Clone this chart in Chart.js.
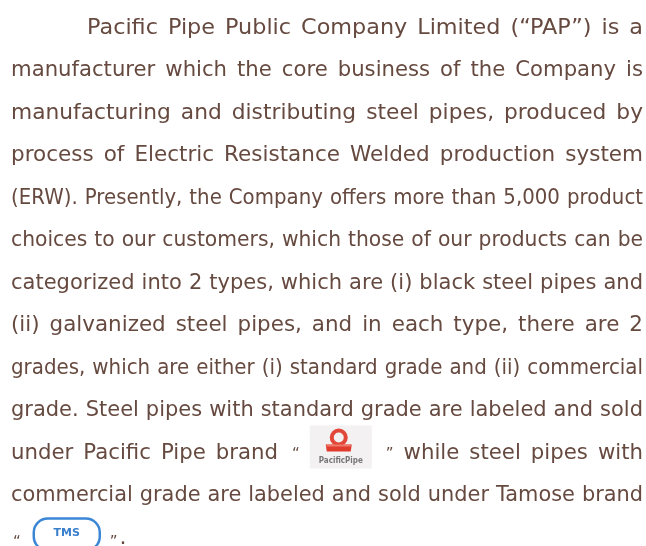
<!DOCTYPE html>
<html>
<head>
<meta charset="utf-8">
<script src="https://cdn.jsdelivr.net/npm/chart.js@4.4.1/dist/chart.umd.min.js"></script>
<style>
  html, body { margin: 0; padding: 0; background: #ffffff; }
  canvas { display: block; }
</style>
</head>
<body>
<canvas id="page" width="646" height="546"></canvas>
<script>
// paragraph lines, one entry per printed row ({PP} and {TMS} are the two brand logos)
const lines = [
    'Pacific Pipe Public Company Limited (\u201CPAP\u201D) is a',
    'manufacturer which the core business of the Company is',
    'manufacturing and distributing steel pipes, produced by',
    'process of Electric Resistance Welded production system',
    '(ERW). Presently, the Company offers more than 5,000 product',
    'choices to our customers, which those of our products can be',
    'categorized into 2 types, which are (i) black steel pipes and',
    '(ii) galvanized steel pipes, and in each type, there are 2',
    'grades, which are either (i) standard grade and (ii) commercial',
    'grade. Steel pipes with standard grade are labeled and sold',
    'under Pacific Pipe brand \u201C {PP} \u201D while steel pipes with',
    'commercial grade are labeled and sold under Tamose brand',
    '\u201C {TMS} \u201D .'
];
const logoText = ['PacificPipe', 'TMS'];

const textColor = '#664a40';
const textFont = '22px "DejaVu Sans"';
const quoteFont = '15px "DejaVu Sans"';
const leftEdge = 11;
const rightEdge = 643;
const indent = 87;

function drawPacificLogo(ctx, x, base) {
    const top = base - 33;
    ctx.fillStyle = '#f3f1f1';
    ctx.fillRect(x, top, 62, 43);
    const cx = x + 29;
    // ring
    ctx.strokeStyle = '#e2483a';
    ctx.lineWidth = 4;
    ctx.beginPath();
    ctx.arc(cx, top + 12, 7, 0, Math.PI * 2);
    ctx.stroke();
    // stand
    ctx.fillStyle = '#e03c2e';
    ctx.beginPath();
    ctx.moveTo(cx - 13, top + 19);
    ctx.lineTo(cx + 13, top + 19);
    ctx.lineTo(cx + 12, top + 26);
    ctx.lineTo(cx - 12, top + 26);
    ctx.closePath();
    ctx.fill();
    ctx.fillStyle = '#f07a6a';
    ctx.fillRect(cx - 12, top + 19, 24, 2);
    ctx.fillStyle = '#777777';
    ctx.font = 'bold 8px "DejaVu Sans Condensed"';
    ctx.textAlign = 'center';
    ctx.textBaseline = 'middle';
    ctx.fillText(logoText[0], x + 31, top + 35);
}

function drawTmsLogo(ctx, x, base) {
    const top = base - 25;
    const w = 66, h = 32, r = 14;
    ctx.strokeStyle = '#3b87d6';
    ctx.lineWidth = 2.5;
    ctx.beginPath();
    ctx.roundRect(x, top, w, h, r);
    ctx.stroke();
    ctx.fillStyle = '#3a7fcb';
    ctx.font = 'bold 11px "DejaVu Sans"';
    ctx.textAlign = 'center';
    ctx.textBaseline = 'middle';
    ctx.fillText(logoText[1], x + w / 2, top + 15);
}

const paragraphPlugin = {
    id: 'paragraph',
    afterDraw(chart) {
        const ctx = chart.ctx;
        const xs = chart.scales.x;
        const ys = chart.scales.y;
        ctx.save();
        lines.forEach((line, i) => {
            const base = ys.getPixelForValue(i);
            const last = i === lines.length - 1;
            const start = xs.getPixelForValue(i === 0 ? indent : leftEdge) + (last ? 2 : 0);
            const end = xs.getPixelForValue(rightEdge);
            const tokens = line.split(' ').map(t => {
                if (t === '{PP}') return { kind: 'pp', w: 62 };
                if (t === '{TMS}') return { kind: 'tms', w: 66 };
                if (t === '\u201C' || t === '\u201D') {
                    ctx.font = quoteFont;
                    const pad = last ? 0 : 4;
                    return { kind: 'quote', text: t, pad: pad, w: ctx.measureText(t).width + pad };
                }
                ctx.font = textFont;
                return { kind: 'text', text: t, w: ctx.measureText(t).width };
            });
            const textW = tokens.filter(t => t.kind === 'text').reduce((s, t) => s + t.w, 0);
            const fixedW = tokens.filter(t => t.kind !== 'text').reduce((s, t) => s + t.w, 0);
            const gaps = tokens.length - 1;
            let sx = 1;
            let gapList = [];
            if (!last) {
                // aim for a normal word gap, stretching or squeezing the glyphs a little
                let targetGap = 10;
                sx = (end - start - fixedW - gaps * targetGap) / textW;
                if (sx < 0.92) {
                    // the long rows are set tighter in the source
                    targetGap = 7;
                    sx = (end - start - fixedW - gaps * targetGap) / textW;
                }
                sx = Math.max(0.84, Math.min(1.12, sx));
                const g = (end - start - fixedW - textW * sx) / gaps;
                for (let k = 0; k < gaps; k++) gapList.push(g);
            } else {
                gapList = [13, 10, 2];
            }
            let x = start;
            tokens.forEach((t, k) => {
                if (t.kind === 'text') {
                    ctx.save();
                    ctx.translate(x, base);
                    ctx.scale(sx, 1);
                    ctx.font = textFont;
                    ctx.fillStyle = textColor;
                    ctx.textAlign = 'left';
                    ctx.textBaseline = 'alphabetic';
                    ctx.fillText(t.text, 0, 0);
                    ctx.restore();
                    x += t.w * sx;
                } else if (t.kind === 'quote') {
                    ctx.font = quoteFont;
                    ctx.fillStyle = textColor;
                    ctx.textAlign = 'left';
                    ctx.textBaseline = 'alphabetic';
                    ctx.fillText(t.text, x + t.pad, base + (last ? 3 : 0));
                    x += t.w;
                } else if (t.kind === 'pp') {
                    drawPacificLogo(ctx, x, base);
                    x += t.w;
                } else {
                    drawTmsLogo(ctx, x, base);
                    x += t.w;
                }
                if (k < gapList.length) x += gapList[k];
            });
        });
        ctx.restore();
    }
};

new Chart(document.getElementById('page'), {
    type: 'scatter',
    data: { datasets: [] },
    options: {
        responsive: false,
        animation: false,
        layout: { padding: 0 },
        scales: {
            x: { display: false, min: 0, max: 646 },
            y: { display: false, reverse: true, min: -33.5 / 42.5, max: (546 - 33.5) / 42.5 }
        },
        plugins: { legend: { display: false }, tooltip: { enabled: false } }
    },
    plugins: [paragraphPlugin]
});
</script>
</body>
</html>
